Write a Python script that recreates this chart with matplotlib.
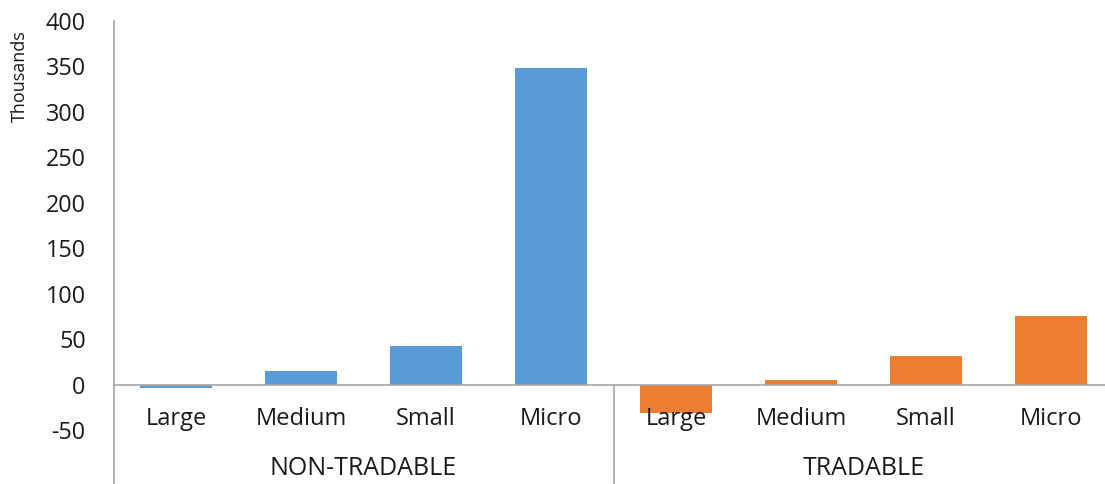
import matplotlib
matplotlib.use("Agg")
import matplotlib.pyplot as plt

# Employment change by firm size (thousands)
groups = ["NON-TRADABLE", "TRADABLE"]
sizes = ["Large", "Medium", "Small", "Micro"]
non_tradable = [-3.5, 14.5, 42, 348]
tradable = [-31, 4.5, 31, 75]
yticks = [-50, 0, 50, 100, 150, 200, 250, 300, 350, 400]

blue = "#5B9BD5"
orange = "#ED7D31"
axis_grey = "#A6A6A6"
text_col = "#1a1a1a"

plt.rcParams["font.family"] = ["Open Sans", "DejaVu Sans"]

W, H = 1105, 484
fig = plt.figure(figsize=(W / 100, H / 100), dpi=100)
left_px, right_px = 113.5, 1113.5
top_px, bottom_px = 21, 430
ax = fig.add_axes([left_px / W, (H - bottom_px) / H,
                   (right_px - left_px) / W, (bottom_px - top_px) / H])

n = len(sizes)
x_nt = list(range(n))
x_tr = [n + i for i in range(n)]
width = 0.576
ax.bar(x_nt, non_tradable, width=width, color=blue, zorder=2)
ax.bar(x_tr, tradable, width=width, color=orange, zorder=2)

ax.set_xlim(-0.5, 2 * n - 0.5)
ax.set_ylim(-50, 400)
ax.set_yticks(yticks)
ax.set_yticklabels([str(v) for v in yticks], fontsize=16.8, color=text_col)
ax.tick_params(axis="y", length=0, pad=20)
ax.set_xticks([])
for s in ax.spines.values():
    s.set_visible(False)

# Zero line and value axis
ax.axhline(0, color=axis_grey, lw=1.2, zorder=3)
ax.plot([-0.5, -0.5], [0, 400], color=axis_grey, lw=1.2, clip_on=False, zorder=3)

# Multi-level category axis below the zero line
px_per_unit = (bottom_px - top_px) / 450
y_bottom = -(H - 384) / px_per_unit
for xb in [-0.5, n - 0.5, 2 * n - 0.5]:
    ax.plot([xb, xb], [0, y_bottom], color=axis_grey, lw=1.2,
            clip_on=False, zorder=3)

label_y = -(418 - 384) / px_per_unit
group_y = -(468 - 384) / px_per_unit
for i, lab in enumerate(sizes * 2):
    ax.text(i, label_y, lab, ha="center", va="center", fontsize=17,
            color=text_col, zorder=4)
for g, lab in enumerate(groups):
    ax.text(g * n + (n - 1) / 2, group_y, lab, ha="center", va="center",
            fontsize=18, color=text_col)

fig.text(20 / W, 1 - 76 / H, "Thousands", rotation=90, ha="center",
         va="center", fontsize=13, color=text_col)

fig.savefig("out.png", dpi=100)
